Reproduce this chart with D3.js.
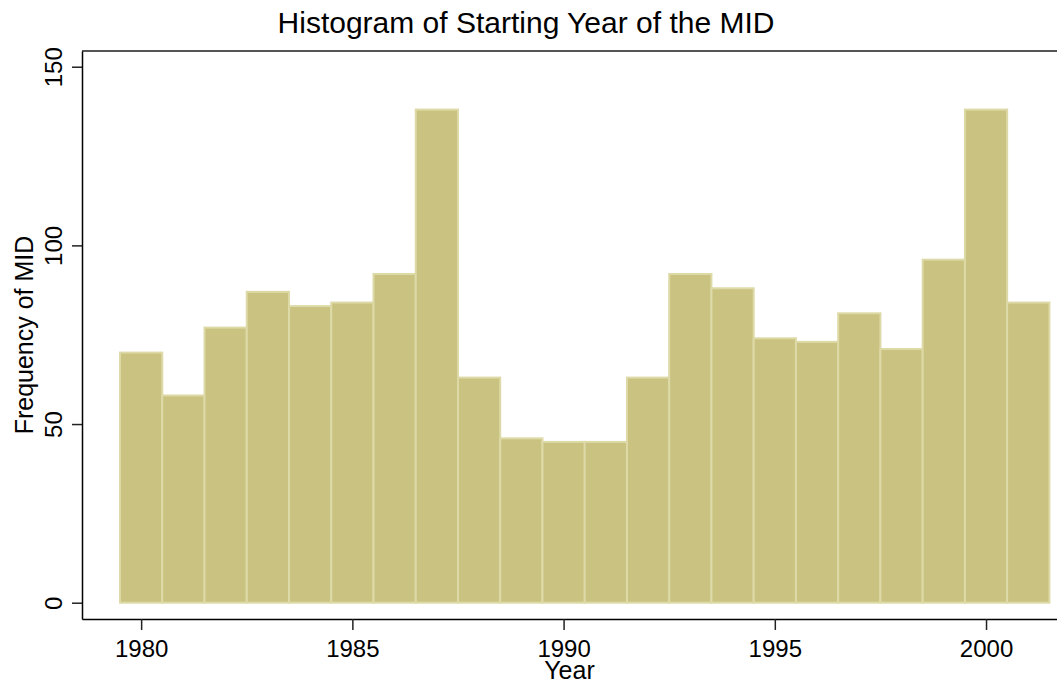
<!DOCTYPE html>
<html lang="en">
<head>
<meta charset="UTF-8">
<title>Histogram of Starting Year of the MID</title>
<script src="https://d3js.org/d3.v7.min.js"></script>
<style>
  body { margin: 0; background: #fff; }
  text { font-family: "Liberation Sans", Arial, sans-serif; fill: #000; }
</style>
</head>
<body>
<svg width="1057" height="685"></svg>
<script>
// data: one bar per starting year
const years = [1980, 1981, 1982, 1983, 1984, 1985, 1986, 1987, 1988, 1989, 1990,
               1991, 1992, 1993, 1994, 1995, 1996, 1997, 1998, 1999, 2000, 2001];
const counts = [70, 58, 77, 87, 83, 84, 92, 138, 63, 46, 45,
                45, 63, 92, 88, 74, 73, 81, 71, 96, 138, 84];
const xTicks = [1980, 1985, 1990, 1995, 2000];
const yTicks = [0, 50, 100, 150];

const width = 1057, height = 685;
const plotLeft = 82, plotRight = 1057, plotTop = 51, plotBottom = 619;

const svg = d3.select('svg');

const x = d3.scaleLinear()
    .domain([1978.6, 2001.68])
    .range([plotLeft, plotRight]);

const y = d3.scaleLinear()
    .domain([-4.56, 154.4])
    .range([plotBottom, plotTop]);

// bars (width of one year, centred on the year)
svg.append('g')
    .selectAll('rect')
    .data(years)
    .join('rect')
    .attr('x', d => x(d - 0.5))
    .attr('y', (d, i) => y(counts[i]))
    .attr('width', d => x(d + 0.5) - x(d - 0.5))
    .attr('height', (d, i) => y(0) - y(counts[i]))
    .attr('fill', '#c9c280')
    .attr('stroke', '#dedaa8')
    .attr('stroke-width', 2);

// top frame line
svg.append('line')
    .attr('x1', plotLeft).attr('x2', plotRight)
    .attr('y1', plotTop).attr('y2', plotTop)
    .attr('stroke', '#555').attr('stroke-width', 2);

// y axis
const yAxis = svg.append('g')
    .attr('transform', `translate(${plotLeft},0)`)
    .call(d3.axisLeft(y).tickValues(yTicks).tickSize(10).tickSizeOuter(0).tickPadding(10));
yAxis.select('.domain').attr('stroke', '#000').attr('stroke-width', 1.5);
yAxis.selectAll('.tick line').attr('stroke', '#222').attr('stroke-width', 1.5);
yAxis.selectAll('.tick text')
    .attr('font-size', 24)
    .attr('text-anchor', 'middle')
    .attr('x', 0).attr('dy', 0)
    .attr('transform', 'translate(-20,0) rotate(-90)');

// x axis
const xAxis = svg.append('g')
    .attr('transform', `translate(0,${plotBottom})`)
    .call(d3.axisBottom(x).tickValues(xTicks).tickFormat(d3.format('d')).tickSize(11).tickSizeOuter(0).tickPadding(10));
xAxis.select('.domain').attr('stroke', '#000').attr('stroke-width', 1.5);
xAxis.selectAll('.tick line').attr('stroke', '#222').attr('stroke-width', 1.5);
xAxis.selectAll('.tick text').attr('font-size', 24);

// titles
svg.append('text')
    .attr('x', 526).attr('y', 33)
    .attr('text-anchor', 'middle')
    .attr('font-size', 30)
    .text('Histogram of Starting Year of the MID');

svg.append('text')
    .attr('x', (plotLeft + plotRight) / 2).attr('y', 679)
    .attr('text-anchor', 'middle')
    .attr('font-size', 25)
    .text('Year');

svg.append('text')
    .attr('transform', `translate(33,${(plotTop + plotBottom) / 2}) rotate(-90)`)
    .attr('text-anchor', 'middle')
    .attr('font-size', 25)
    .text('Frequency of MID');
</script>
</body>
</html>
